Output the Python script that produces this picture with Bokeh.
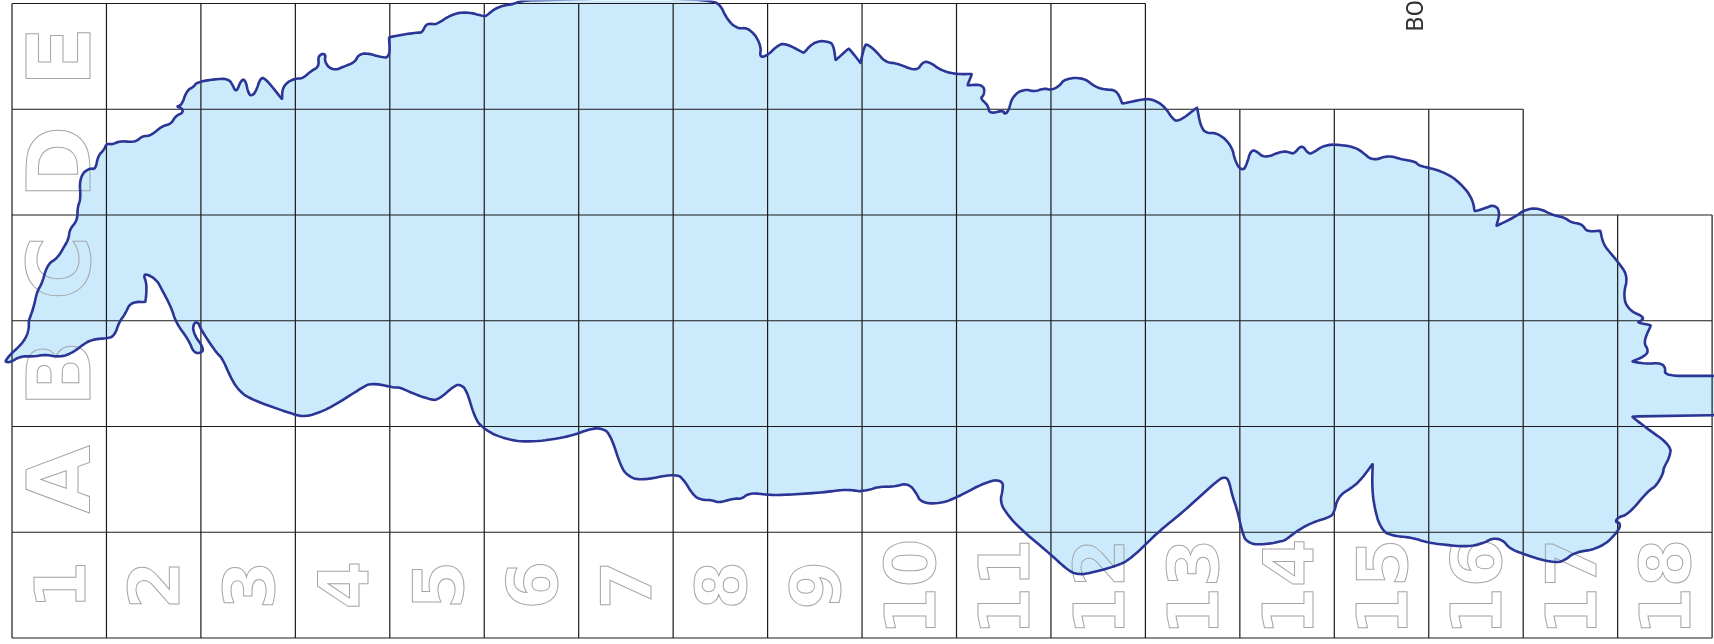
from bokeh.plotting import figure
from bokeh.models import Range1d
from bokeh.embed import file_html
from bokeh.resources import INLINE
from bokeh.core.properties import value
import math

# zoom-crop tracings of the coast: (offset_x, offset_y, [crop_x...], [crop_y...]) at 3x
west_x = [15, 30, 50, 75, 85, 85]
west_y = [115, 95, 78, 50, 20, 0]
nw_x = [85,100,110,125,140,170,190,205,207,232,230,242,235,268,285,292,310,318,335,360,405,425,450,485,512,525,548,545,525,545,557,582,587,650,685,697,708,720,735,743,755,768,780,795,820,845,845,885,905,930,958,950,978,970,998,1030,1065,1072,1100,1140,1170,1165,1250,1265,1275,1290]
nw_y = [960,920,870,850,790,775,740,715,685,660,620,595,530,500,510,465,450,428,433,420,427,405,408,375,372,345,338,322,318,315,270,258,245,235,235,255,278,240,235,280,287,270,230,235,265,297,255,232,236,212,198,165,157,185,212,198,185,163,157,170,172,110,95,98,72,70]
n_x = [0,20,60,110,160,170,200,255,270,520,713,845,872,885,920,955,995,985,1012,1040,1065,1120,1150,1195,1210,1215,1255,1290]
n_y = [70,72,42,33,48,45,18,10,0,-6,-6,0,15,50,88,78,135,172,165,135,127,158,122,122,135,180,143,187]
ne_x = [0,12,20,50,75,110,170,185,210,240,290,335,320,370,372,357,385,385,430,430,445,455,495,520,552,570,600,610,670,700,735,770,785,850,880,915,935,955,1010,1020,1040,1070,1115,1122,1145,1160,1170,1190,1212,1265,1290]
ne_y = [187,135,130,155,187,187,215,183,185,210,222,220,255,250,285,293,315,342,328,342,333,285,264,275,262,270,255,235,230,258,268,268,310,295,297,320,355,365,320,380,400,395,435,480,515,490,448,452,475,450,457]
e_x = [30,52,70,85,120,170,210,235,265,310,350,395,400,440,490,530,565,570,605,630,648,635,700,715,760,805,840,860,895,905,948,955,980,1005,1032,1015,1030,1080,1070]
e_y = [460,430,460,458,432,433,440,455,483,463,477,483,495,503,520,550,595,633,622,612,635,677,645,630,620,645,650,667,670,695,690,730,760,790,830,880,930,948,962]
se_x = [1055,1100,1075,1092,1085,1042,1090,1125,1145,1138,1296,1296,1042,1090,1158,1158,1135,1138,1112,1095,1030,1003,990,1010,1000,945,870,845,810,715,670,660,625,600,550,490,425,385,320,290,270,262,265,235,205,160,150,135,90,45,6]
se_y = [0,8,60,80,100,117,125,120,135,160,160,278,282,320,367,400,440,450,495,500,578,582,600,600,630,680,688,712,723,695,675,655,645,662,673,668,660,645,640,622,560,490,423,465,495,520,570,585,597,620,650]
s1_x = [1270,1210,1160,1145,1130,1115,1105,1090,1070,960,900,810,770,690,650,620,570,480,435,418,427,427,375,290,235,180,170,143,105,55,25,0]
s1_y = [655,667,663,630,560,520,470,463,475,575,622,710,730,752,757,742,695,620,570,535,505,470,478,525,545,540,515,480,493,492,503,505]
s2_x = [1290,1245,1180,1050,1010,955,935,910,865,845,810,785,760,735,630,590,570,540,515,480,420,300,220,155,130,110,90,70,25,0]
s2_y = [507,500,510,518,517,510,530,527,542,532,533,515,470,453,475,460,430,335,317,318,342,360,350,318,280,205,185,190,232,232]
s3_x = [1230,1195,1185,1115,1085,1000,950,915,885,750,715,690,665,650,597,595,578,578,612,600,578,567,525]
s3_y = [210,193,197,180,195,250,273,282,278,230,205,165,105,95,15,0,0,35,78,93,90,55,0]
inlet_x = [515,480,470,440,428,440,435,390,375,355]
inlet_y = [925,860,840,820,825,850,905,903,940,965]
sw_x = [343,320,275,245,215,175,135,100,60,30,15]
sw_y = [40,48,50,68,92,105,95,103,100,120,118]

sections = [(0,322,west_x,west_y),(0,0,nw_x,nw_y),(430,0,n_x,n_y),(860,0,ne_x,ne_y),
            (1284,0,e_x,e_y),(1284,322,se_x,se_y),(860,322,s1_x,s1_y),(430,322,s2_x,s2_y),
            (0,322,s3_x,s3_y),(0,0,inlet_x,inlet_y),(0,322,sw_x,sw_y)]
coast_x, coast_y = [], []
for ox, oy, xs, ys in sections:
    coast_x += [ox + v / 3 for v in xs]
    coast_y += [oy + v / 3 for v in ys]

def round_corners(xs, ys, max_cut):
    """Corner cutting of the closed traced outline so the coast draws as a curve; sharp tips stay sharp."""
    n = len(xs)
    ox, oy = [], []
    for i in range(n):
        ax, ay = xs[i - 1], ys[i - 1]
        bx, by = xs[i], ys[i]
        cx, cy = xs[(i + 1) % n], ys[(i + 1) % n]
        l1 = math.hypot(bx - ax, by - ay) or 1e-6
        l2 = math.hypot(cx - bx, cy - by) or 1e-6
        cos_turn = ((bx - ax) * (cx - bx) + (by - ay) * (cy - by)) / (l1 * l2)
        lim = 0.8 if (cos_turn < 0.25 and min(l1, l2) > 12) else max_cut
        d1, d2 = min(l1 * .3, lim), min(l2 * .3, lim)
        ox += [bx - (bx - ax) / l1 * d1, bx + (cx - bx) / l2 * d2]
        oy += [by - (by - ay) / l1 * d1, by + (cy - by) / l2 * d2]
    return ox, oy

smooth_x, smooth_y = coast_x, coast_y
for cut in (9, 4, 2):
    smooth_x, smooth_y = round_corners(smooth_x, smooth_y, cut)

row_labels = ["E", "D", "C", "B", "A"]
col_labels = [str(i) for i in range(1, 19)]
row_widths = [12, 16, 18, 18, 18, 18]   # columns covered by each grid row, top to bottom

X0, DX, Y0, DY = 11.5, 94.45, 3.0, 105.75
OUTLINE = "#A6A6AA"
CLEAR = "rgba(255,255,255,0.004)"

p = figure(width=1714, height=644, output_backend="svg", toolbar_location=None,
           x_range=Range1d(0, 1714), y_range=Range1d(644, 0),
           x_axis_type=None, y_axis_type=None, min_border=0, outline_line_color=None)
p.grid.visible = False
p.styles = {"position": "fixed", "left": "0px", "top": "0px"}

p.patch(smooth_x, smooth_y, fill_color="#CBEBFC", line_color=None)

lx = [X0 + DX / 2] * len(row_labels)
ly = [Y0 + DY * (i + .5) for i in range(len(row_labels))]
p.text(lx, ly, text=row_labels, angle=math.pi / 2, text_align="center", text_baseline="middle",
       text_font=value("DejaVu Sans"), text_font_style="bold", text_font_size="88px",
       text_color=CLEAR, text_outline_color=OUTLINE)
nx = [X0 + DX * (i + .5) for i in range(len(col_labels))]
ny = [Y0 + DY * 5.5 + (2 if len(s) > 1 else 0) for s in col_labels]
p.text(nx, ny, text=col_labels, angle=math.pi / 2, text_align="center", text_baseline="middle",
       text_font=value("DejaVu Sans"), text_font_style="bold", text_font_size="70px",
       text_color=CLEAR, text_outline_color=OUTLINE)

x0s, y0s, x1s, y1s = [], [], [], []
for r, w in enumerate(row_widths):
    top, bot = Y0 + DY * r, Y0 + DY * (r + 1)
    x0s.append(X0); x1s.append(X0 + DX * w); y0s.append(top); y1s.append(top)
    for c in range(w + 1):
        x = X0 + DX * c
        x0s.append(x); x1s.append(x); y0s.append(top); y1s.append(bot)
x0s.append(X0); x1s.append(X0 + DX * 18); y0s.append(Y0 + DY * 6); y1s.append(Y0 + DY * 6)
p.segment(x0s, y0s, x1s, y1s, line_color="#1A1A1A", line_width=1.2)

p.line(smooth_x + smooth_x[:1], smooth_y + smooth_y[:1], line_color="#2B3595", line_width=2.6, line_join="round")

p.text([1414], [31], text=["BO"], angle=math.pi / 2, text_align="left", text_baseline="alphabetic",
       text_font=value("Roboto"), text_font_size="24px", text_color="#333333")

open("out.html", "w").write(file_html(p, INLINE))
